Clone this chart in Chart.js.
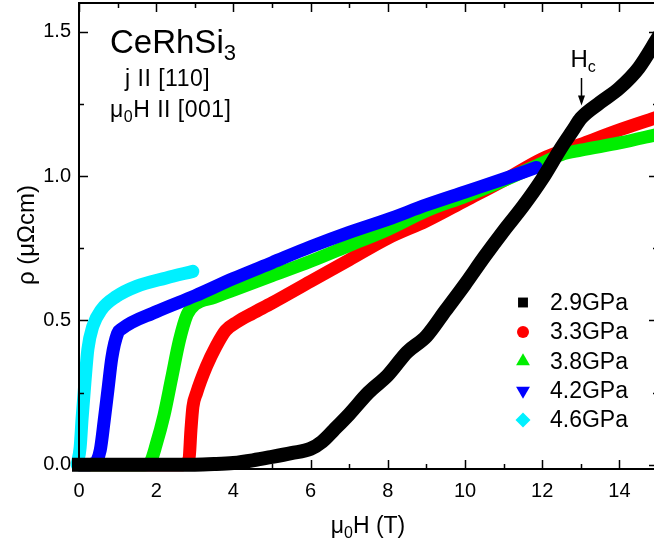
<!DOCTYPE html>
<html>
<head>
<meta charset="utf-8">
<script src="https://cdn.jsdelivr.net/npm/chart.js@4.4.1/dist/chart.umd.min.js"></script>
<style>
  html, body { margin: 0; padding: 0; background: #fff; overflow: hidden; }
  #wrap { width: 664px; height: 549px; }
</style>
</head>
<body>
<div id="wrap"><canvas id="rho" width="664" height="549"></canvas></div>
<script>
// magnetoresistance of CeRhSi3 at several pressures, rho in uOhm cm vs field in T
const labels = ['2.9GPa', '3.3GPa', '3.8GPa', '4.2GPa', '4.6GPa'];
const colors = ['#000000', '#ff0000', '#00ee00', '#0000ff', '#00f0ff'];
const pointStyles = ['rect', 'circle', 'triangle', 'triangle', 'rectRot'];
const pointRotations = [0, 0, 0, 180, 0];

const field29 = [0, 1, 2, 3, 3.5, 4, 4.5, 5, 5.5, 6, 6.3, 6.6, 7, 7.5, 8, 8.5, 9, 9.5, 10, 10.5, 11, 11.5, 12, 12.5, 12.8, 13, 13.5, 14, 14.5, 15];
const rho29 = [0, 0, 0, 0, 0.002, 0.006, 0.015, 0.027, 0.04, 0.055, 0.08, 0.12, 0.175, 0.25, 0.31, 0.39, 0.445, 0.535, 0.625, 0.72, 0.81, 0.895, 0.99, 1.1, 1.16, 1.2, 1.255, 1.305, 1.375, 1.48];

const field33 = [0, 2.7, 2.85, 2.9, 2.95, 3.05, 3.3, 3.55, 3.8, 4.1, 4.5, 5, 6, 7, 8, 9, 10, 11, 12, 13, 14, 15];
const rho33 = [0, 0, 0.02, 0.12, 0.2, 0.25, 0.34, 0.41, 0.465, 0.495, 0.525, 0.56, 0.635, 0.71, 0.785, 0.845, 0.915, 0.985, 1.06, 1.11, 1.16, 1.205];

const field38 = [0, 1.7, 1.85, 2.0, 2.2, 2.4, 2.6, 2.8, 3.0, 3.5, 4, 5, 6, 7, 8, 9, 10, 11, 12, 12.5, 13, 14, 15];
const rho38 = [0, 0, 0.01, 0.07, 0.17, 0.3, 0.43, 0.52, 0.555, 0.58, 0.605, 0.655, 0.705, 0.76, 0.815, 0.88, 0.93, 0.985, 1.045, 1.075, 1.09, 1.115, 1.145];

const field42 = [0, 0.2, 0.4, 0.55, 0.65, 0.75, 0.85, 1.0, 1.1, 2, 3, 4, 5, 6, 7, 8, 9, 10, 11, 11.85];
const rho42 = [0, 0, 0.005, 0.05, 0.15, 0.26, 0.37, 0.455, 0.47, 0.53, 0.585, 0.645, 0.7, 0.755, 0.805, 0.85, 0.9, 0.945, 0.99, 1.03];

const field46 = [-0.05, 0.03, 0.08, 0.15, 0.23, 0.36, 0.58, 0.97, 1.49, 2.26, 2.95];
const rho46 = [0, 0.06, 0.16, 0.28, 0.4, 0.48, 0.537, 0.583, 0.618, 0.647, 0.67];

const xTicks = [0, 2, 4, 6, 8, 10, 12, 14];
const xMinor = [1, 3, 5, 7, 9, 11, 13, 15];
const yTicks = [0, 0.5, 1.0, 1.5];
const yMinor = [0.25, 0.75, 1.25];

const fieldSets = [field29, field33, field38, field42, field46];
const rhoSets = [rho29, rho33, rho38, rho42, rho46];
// black on top, then cyan, blue, green, red underneath
const drawOrder = [0, 4, 3, 2, 1];

const FONT = "'Liberation Sans', Arial, sans-serif";

function toPoints(xs, ys) {
  return xs.map((x, i) => ({ x: x, y: ys[i] }));
}

const datasets = labels.map((lab, i) => ({
  label: lab,
  data: toPoints(fieldSets[i], rhoSets[i]),
  borderColor: colors[i],
  backgroundColor: colors[i],
  borderWidth: i === 0 ? 14 : 13,
  borderJoinStyle: 'round',
  borderCapStyle: i === 0 ? 'square' : 'round',
  pointRadius: 0,
  showLine: true,
  cubicInterpolationMode: 'monotone',
  clip: false,
  order: drawOrder[i],
  pointStyle: pointStyles[i],
  rotation: pointRotations[i]
}));

// draws text with a smaller subscript part, returns the end x
function subText(ctx, parts, x, y, size) {
  parts.forEach(p => {
    const sub = p[1];
    ctx.font = (sub ? Math.round(size * 0.68) : size) + 'px ' + FONT;
    ctx.fillText(p[0], x, sub ? y + size * 0.22 : y);
    x += ctx.measureText(p[0]).width;
  });
  return x;
}
function subWidth(ctx, parts, size) {
  let w = 0;
  parts.forEach(p => {
    ctx.font = (p[1] ? Math.round(size * 0.68) : size) + 'px ' + FONT;
    w += ctx.measureText(p[0]).width;
  });
  return w;
}

// axis frame with inward ticks, labels, legend and the Hc marker
const framePlugin = {
  id: 'frame',
  afterDatasetsDraw(chart) {
    const ctx = chart.ctx;
    const a = chart.chartArea;
    const xs = chart.scales.x;
    const ys = chart.scales.y;
    ctx.save();
    ctx.strokeStyle = '#000';
    ctx.fillStyle = '#000';
    ctx.lineWidth = 2;
    ctx.strokeRect(a.left, a.top, a.right - a.left, a.bottom - a.top);

    ctx.lineWidth = 1.5;
    const tick = (vals, len) => {
      vals.forEach(v => {
        const px = Math.round(xs.getPixelForValue(v)) + 0.5;
        ctx.beginPath();
        ctx.moveTo(px, a.bottom); ctx.lineTo(px, a.bottom - len);
        ctx.moveTo(px, a.top); ctx.lineTo(px, a.top + len);
        ctx.stroke();
      });
    };
    const ytick = (vals, len) => {
      vals.forEach(v => {
        const py = Math.round(ys.getPixelForValue(v)) + 0.5;
        ctx.beginPath();
        ctx.moveTo(a.left, py); ctx.lineTo(a.left + len, py);
        ctx.moveTo(a.right, py); ctx.lineTo(a.right - len, py);
        ctx.stroke();
      });
    };
    tick(xTicks, 9); tick(xMinor, 5);
    ytick(yTicks, 9); ytick(yMinor, 5);

    // axis titles
    ctx.textBaseline = 'alphabetic';
    ctx.textAlign = 'left';
    const xTitle = [['\u03bc', false], ['0', true], ['H (T)', false]];
    subText(ctx, xTitle, 368 - subWidth(ctx, xTitle, 23) / 2, 533, 23);

    ctx.save();
    ctx.translate(34, 235);
    ctx.rotate(-Math.PI / 2);
    ctx.textAlign = 'center';
    ctx.font = '24px ' + FONT;
    ctx.fillText('\u03c1 (\u03bc\u03a9cm)', 0, 0);
    ctx.restore();

    // sample and geometry
    ctx.textAlign = 'left';
    subText(ctx, [['CeRhSi', false], ['3', true]], 110, 53, 33);
    ctx.letterSpacing = '0.5px';
    subText(ctx, [['j II [110]', false]], 125, 86, 23);
    subText(ctx, [['\u03bc', false], ['0', true], ['H II [001]', false]], 110, 117, 23);
    ctx.letterSpacing = '0px';

    // Hc arrow at 13 T
    const ax = Math.round(xs.getPixelForValue(13)) + 0.5;
    const yTop = ys.getPixelForValue(1.34);
    const yTip = ys.getPixelForValue(1.245);
    ctx.lineWidth = 1.5;
    ctx.beginPath();
    ctx.moveTo(ax, yTop); ctx.lineTo(ax, yTip - 6);
    ctx.stroke();
    ctx.beginPath();
    ctx.moveTo(ax - 3.5, yTip - 10); ctx.lineTo(ax + 3.5, yTip - 10); ctx.lineTo(ax, yTip);
    ctx.closePath(); ctx.fill();
    subText(ctx, [['H', false], ['c', true]], ax - 11, 67, 24);

    // legend
    const radii = [7, 6, 8, 8, 7.5];
    ctx.font = '23px ' + FONT;
    ctx.textBaseline = 'middle';
    labels.forEach((lab, i) => {
      const ly = 302.5 + i * 29.4;
      ctx.fillStyle = colors[i];
      ctx.strokeStyle = colors[i];
      Chart.helpers.drawPoint(ctx, {
        pointStyle: pointStyles[i], rotation: pointRotations[i],
        radius: radii[i], borderWidth: 0
      }, 523, ly);
      ctx.fillStyle = '#000';
      ctx.fillText(lab, 550, ly + 1);
    });
    ctx.restore();
  }
};

new Chart(document.getElementById('rho'), {
  type: 'scatter',
  data: { datasets: datasets },
  options: {
    responsive: false,
    animation: false,
    devicePixelRatio: 1,
    layout: { padding: { top: 3, right: 6, left: 0, bottom: 0 } },
    plugins: { legend: { display: false }, tooltip: { enabled: false } },
    scales: {
      x: {
        type: 'linear', min: 0, max: 15,
        grid: { display: false, drawTicks: false },
        border: { display: false },
        afterBuildTicks: s => { s.ticks = xTicks.map(v => ({ value: v })); },
        afterFit: s => { s.height = 80; s.paddingLeft = 0; s.paddingRight = 0; },
        ticks: { color: '#000', padding: 10, font: { family: FONT, size: 20 }, maxRotation: 0 }
      },
      y: {
        type: 'linear', min: -0.015, max: 1.6,
        grid: { display: false, drawTicks: false },
        border: { display: false },
        afterBuildTicks: s => { s.ticks = yTicks.map(v => ({ value: v })); },
        afterFit: s => { s.width = 79; s.paddingTop = 0; s.paddingBottom = 0; },
        ticks: { color: '#000', padding: 8, font: { family: FONT, size: 20 },
                 callback: v => v.toFixed(1) }
      }
    }
  },
  plugins: [framePlugin]
});
</script>
</body>
</html>
